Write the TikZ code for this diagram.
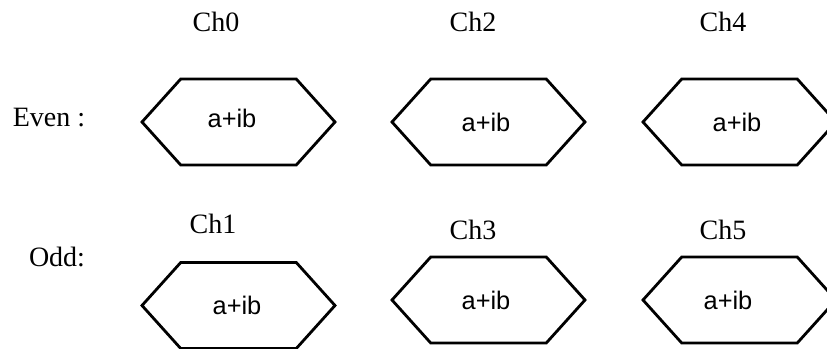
\documentclass[tikz,border=0pt]{standalone}
\usepackage{fontspec}
\setmainfont{Liberation Serif}
\setsansfont{Liberation Sans}
\usetikzlibrary{shapes.symbols}

\tikzset{
	chan/.style={draw, line width=1.4pt, signal, signal to=east and west, signal pointer angle=96,
		minimum width=96.5pt, minimum height=43pt, inner sep=0pt},
	val/.style={inner sep=0pt, font=\sffamily\fontsize{12.7}{15}\selectfont},
	lbl/.style={inner sep=1pt, font=\fontsize{14}{17}\selectfont}
}

\begin{document}
\begin{tikzpicture}[x=0.5pt, y=-0.5pt]
		\useasboundingbox (0,0) rectangle (827,349);
		% channel boxes: index / box centre / title position / shift of the value text
		\foreach \i/\x/\y/\tx/\ty/\dx/\dy in {0/238.5/122/216/22/-6.5/-4, 2/488.5/122/473/22/-2.5/0, 4/739.5/122/723/22/-2.5/0,
			1/238.5/305.5/213/224/-1.5/0, 3/488.5/300/473/230/-2.5/0, 5/739.5/300/723/230/-11.5/0}
		{
			\node[chan] (hex\i) at (\x,\y) {};
			\node[val, xshift=\dx*0.5pt, yshift=-\dy*0.5pt] (v\i) at (hex\i) {a+ib};
			\node[lbl] (ch\i) at (\tx,\ty) {Ch\i};
		}
		\node[lbl] (even) at (49,118) {Even :};
		\node[lbl] (odd) at (57,257) {Odd:};
\end{tikzpicture}
\end{document}
